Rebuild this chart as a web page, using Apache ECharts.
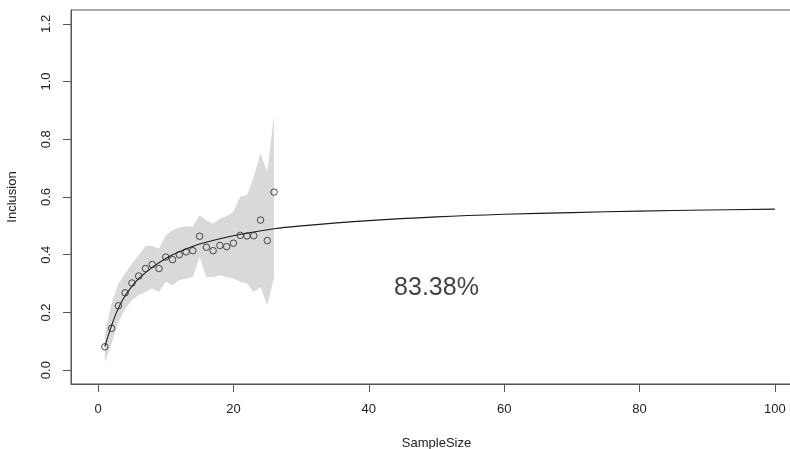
<!DOCTYPE html>
<html>
<head>
<meta charset="utf-8">
<script src="https://cdn.jsdelivr.net/npm/echarts@6/dist/echarts.min.js"></script>
<style>
html,body{margin:0;padding:0;background:#fff;}
#chart{width:790px;height:449px;}
</style>
</head>
<body>
<div id="chart"></div>
<script>
// Observed sample sizes and inclusion values
const sampleX = [1,2,3,4,5,6,7,8,9,10,11,12,13,14,15,16,17,18,19,20,21,22,23,24,25,26];
const inclusion = [0.081,0.145,0.223,0.268,0.302,0.326,0.352,0.366,0.352,0.392,0.383,0.400,0.410,0.414,0.464,0.426,0.414,0.432,0.428,0.440,0.467,0.465,0.466,0.520,0.449,0.617];
// Confidence band
const bandUpper = [0.127,0.231,0.300,0.335,0.369,0.398,0.430,0.430,0.421,0.467,0.485,0.494,0.498,0.498,0.537,0.519,0.508,0.525,0.534,0.548,0.602,0.606,0.669,0.752,0.687,0.883];
const bandLower = [0.029,0.092,0.167,0.213,0.242,0.260,0.271,0.283,0.271,0.306,0.294,0.312,0.317,0.323,0.392,0.323,0.323,0.329,0.323,0.317,0.306,0.300,0.271,0.288,0.225,0.323];
// Fitted curve readings
const curveX = [1,2,3,4,5,6,8,10,12,15,20,26,30,40,50,60,70,80,90,100];
const curveY = [0.082,0.155,0.215,0.258,0.290,0.317,0.356,0.387,0.410,0.437,0.466,0.490,0.500,0.518,0.531,0.540,0.546,0.551,0.555,0.558];
// Tick labels
const xTicks = [0,20,40,60,80,100];
const yTicks = [0,0.2,0.4,0.6,0.8,1.0,1.2];
// Annotation
const annotX = [50];
const annotY = [0.285];
const annotText = "83.38%";

const chart = echarts.init(document.getElementById('chart'), null, {renderer:'canvas'});
const font = "'Liberation Sans', Arial, sans-serif";
const axisCol = '#555';

const bandData = sampleX.map((x,i)=>[x, bandLower[i], bandUpper[i]]);

chart.setOption({
  animation:false,
  backgroundColor:'#fff',
  grid:{left:71, top:10, width:731, height:374, show:true, borderColor:axisCol, borderWidth:1,
        backgroundColor:'transparent', outerBoundsMode:'none', containLabel:false},
  xAxis:{
    type:'value', min:-4, max:104,
    name:'SampleSize', nameLocation:'middle', nameGap:53,
    nameTextStyle:{fontFamily:font, fontSize:13, color:'#222'},
    axisLine:{show:true, onZero:false, lineStyle:{color:axisCol}},
    axisTick:{show:true, length:8, inside:false, customValues:xTicks, lineStyle:{color:axisCol}},
    axisLabel:{show:true, customValues:xTicks, margin:19, fontFamily:font, fontSize:13, color:'#222'},
    splitLine:{show:false}
  },
  yAxis:{
    type:'value', min:-0.048, max:1.248,
    name:'Inclusion', nameLocation:'middle', nameGap:52, nameRotate:90,
    nameTextStyle:{fontFamily:font, fontSize:13, color:'#222'},
    axisLine:{show:true, onZero:false, lineStyle:{color:axisCol}},
    axisTick:{show:true, length:8, inside:false, customValues:yTicks, lineStyle:{color:axisCol}},
    axisLabel:{show:true, customValues:yTicks, rotate:90, margin:18, fontFamily:font, fontSize:13, color:'#222',
      formatter:v=>(+v).toFixed(1)},
    splitLine:{show:false}
  },
  series:[
    {type:'custom', data:bandData, silent:true, z:1,
     encode:{x:0, y:[1,2]},
     renderItem:function(params, api){
       if (params.dataIndex !== 0) return null;
       const pts = [];
       for (let i=0;i<bandData.length;i++) pts.push(api.coord([bandData[i][0], bandData[i][2]]));
       for (let i=bandData.length-1;i>=0;i--) pts.push(api.coord([bandData[i][0], bandData[i][1]]));
       return {type:'polygon', shape:{points:pts}, style:{fill:'#d9d9d9', stroke:null}};
     }},
    {type:'line', data:curveX.map((x,i)=>[x,curveY[i]]), smooth:0.4, symbol:'none', silent:true,
     lineStyle:{color:'#1a1a1a', width:1.1}, z:3},
    {type:'scatter', data:sampleX.map((x,i)=>[x,inclusion[i]]), symbol:'circle', symbolSize:6.5, silent:true,
     itemStyle:{color:'transparent', borderColor:'#222', borderWidth:1}, z:4},
    {type:'scatter', data:annotX.map((x,i)=>[x,annotY[i]]), symbolSize:0, silent:true,
     label:{show:true, position:'inside', formatter:annotText, fontFamily:font, fontSize:25, color:'#111'}, z:5}
  ]
});
</script>
</body>
</html>
